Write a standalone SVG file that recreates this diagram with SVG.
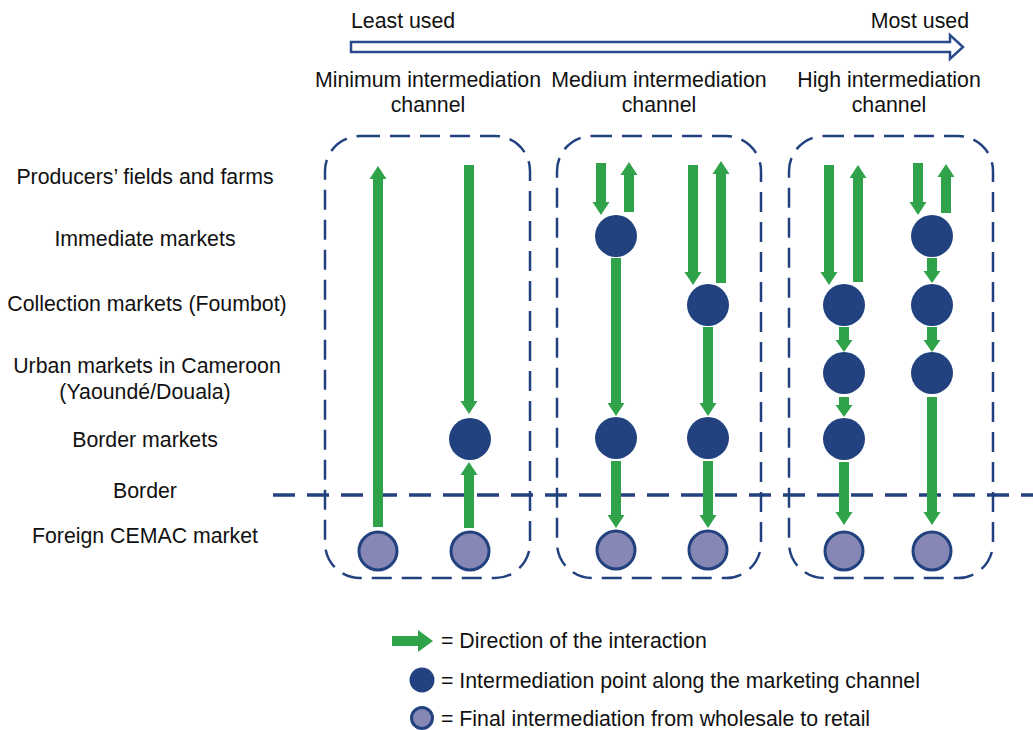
<svg xmlns="http://www.w3.org/2000/svg" width="1033" height="730" viewBox="0 0 1033 730">
<style>
text{font-family:"Liberation Sans",Arial,sans-serif;font-size:21.3px;fill:#111}
.c{text-anchor:middle}
.box{fill:none;stroke:#22427f;stroke-width:2.5;stroke-dasharray:20 10}
.ar{fill:#2fa24a}
.pt{fill:#22427f}
.fin{fill:#8787b5;stroke:#22427f;stroke-width:3}
</style>
<rect width="1033" height="730" fill="#fff"/>
<g id="scale">
<path d="M351,42 L950,42 L950,35 L963,47 L950,59 L950,52 L351,52 Z" fill="#fff" stroke="#2b4a8c" stroke-width="2.5"/>
<text x="351" y="28">Least used</text>
<text x="969" y="28" text-anchor="end">Most used</text>
<text class="c" x="428" y="87">Minimum intermediation</text>
<text class="c" x="428" y="112">channel</text>
<text class="c" x="659" y="87">Medium intermediation</text>
<text class="c" x="659" y="112">channel</text>
<text class="c" x="889" y="87">High intermediation</text>
<text class="c" x="889" y="112">channel</text>
</g>
<g id="labels">
<text class="c" x="145" y="184">Producers’ fields and farms</text>
<text class="c" x="145" y="246">Immediate markets</text>
<text class="c" x="147" y="311">Collection markets (Foumbot)</text>
<text class="c" x="147" y="373">Urban markets in Cameroon</text>
<text class="c" x="145" y="399">(Yaoundé/Douala)</text>
<text class="c" x="145" y="447">Border markets</text>
<text class="c" x="145" y="498">Border</text>
<text class="c" x="145" y="543">Foreign CEMAC market</text>
</g>
<g id="boxes">
<rect id="box-minimum" class="box" x="325" y="136" width="205" height="442" rx="35"/>
<rect id="box-medium" class="box" x="557" y="136" width="204" height="442" rx="35"/>
<rect id="box-high" class="box" x="789" y="136" width="204" height="442" rx="35"/>
</g>
<line id="border-line" x1="273" y1="495" x2="1033" y2="495" stroke="#22427f" stroke-width="3.5" stroke-dasharray="22 12"/>
<g id="connectors">
<path class="ar" d="M373,527 L373,179 L369.5,179 L378,166 L386.5,179 L383,179 L383,527 Z"/>
<path class="ar" d="M464,165 L474,165 L474,401 L477.5,401 L469,414 L460.5,401 L464,401 Z"/>
<path class="ar" d="M464,528 L464,475 L460.5,475 L469,462 L477.5,475 L474,475 L474,528 Z"/>
<path class="ar" d="M596,163 L606,163 L606,202 L609.5,202 L601,215 L592.5,202 L596,202 Z"/>
<path class="ar" d="M624,212 L624,175 L620.5,175 L629,162 L637.5,175 L634,175 L634,212 Z"/>
<path class="ar" d="M611,258 L621,258 L621,403 L624.5,403 L616,416 L607.5,403 L611,403 Z"/>
<path class="ar" d="M611,461 L621,461 L621,515 L624.5,515 L616,528 L607.5,515 L611,515 Z"/>
<path class="ar" d="M688,165 L698,165 L698,272 L701.5,272 L693,285 L684.5,272 L688,272 Z"/>
<path class="ar" d="M716,283 L716,174 L712.5,174 L721,161 L729.5,174 L726,174 L726,283 Z"/>
<path class="ar" d="M703,327 L713,327 L713,403 L716.5,403 L708,416 L699.5,403 L703,403 Z"/>
<path class="ar" d="M703,461 L713,461 L713,515 L716.5,515 L708,528 L699.5,515 L703,515 Z"/>
<path class="ar" d="M824,165 L834,165 L834,272 L837.5,272 L829,285 L820.5,272 L824,272 Z"/>
<path class="ar" d="M853,282 L853,178 L849.5,178 L858,165 L866.5,178 L863,178 L863,282 Z"/>
<path class="ar" d="M839,327 L849,327 L849,340 L852.5,340 L844,352 L835.5,340 L839,340 Z"/>
<path class="ar" d="M839,397 L849,397 L849,405 L852.5,405 L844,417 L835.5,405 L839,405 Z"/>
<path class="ar" d="M839,462 L849,462 L849,512 L852.5,512 L844,525 L835.5,512 L839,512 Z"/>
<path class="ar" d="M913,163 L923,163 L923,202 L926.5,202 L918,215 L909.5,202 L913,202 Z"/>
<path class="ar" d="M941,213 L941,177 L937.5,177 L946,164 L954.5,177 L951,177 L951,213 Z"/>
<path class="ar" d="M927,258 L937,258 L937,271 L940.5,271 L932,283 L923.5,271 L927,271 Z"/>
<path class="ar" d="M927,327 L937,327 L937,340 L940.5,340 L932,352 L923.5,340 L927,340 Z"/>
<path class="ar" d="M927,397 L937,397 L937,512 L940.5,512 L932,525 L923.5,512 L927,512 Z"/>
</g>
<g id="nodes">
<circle id="n1-border" class="pt" cx="470" cy="439" r="21"/>
<circle id="n2-imm" class="pt" cx="616" cy="236" r="21"/>
<circle id="n2-border" class="pt" cx="616" cy="438" r="21"/>
<circle id="n2b-coll" class="pt" cx="708" cy="305" r="21"/>
<circle id="n2b-border" class="pt" cx="708" cy="438" r="21"/>
<circle id="n3-coll" class="pt" cx="844" cy="305" r="21"/>
<circle id="n3-urban" class="pt" cx="844" cy="373" r="21"/>
<circle id="n3-border" class="pt" cx="844" cy="439" r="21"/>
<circle id="n3b-imm" class="pt" cx="932" cy="236" r="21"/>
<circle id="n3b-coll" class="pt" cx="932" cy="305" r="21"/>
<circle id="n3b-urban" class="pt" cx="932" cy="373" r="21"/>
<circle id="f1" class="fin" cx="378" cy="551" r="19"/>
<circle id="f2" class="fin" cx="470" cy="551" r="19"/>
<circle id="f3" class="fin" cx="616" cy="550" r="19"/>
<circle id="f4" class="fin" cx="708" cy="550" r="19"/>
<circle id="f5" class="fin" cx="844" cy="551" r="19"/>
<circle id="f6" class="fin" cx="932" cy="551" r="19"/>
</g>
<g id="legend">
<path class="ar" d="M392,636 L418,636 L418,630 L433,641 L418,652 L418,646 L392,646 Z"/>
<text x="441" y="648">= Direction of the interaction</text>
<circle class="pt" cx="422" cy="680" r="12.5"/>
<text x="441" y="688">= Intermediation point along the marketing channel</text>
<circle class="fin" cx="422" cy="718" r="10.5" stroke-width="2.5"/>
<text x="441" y="726">= Final intermediation from wholesale to retail</text>
</g>
</svg>
